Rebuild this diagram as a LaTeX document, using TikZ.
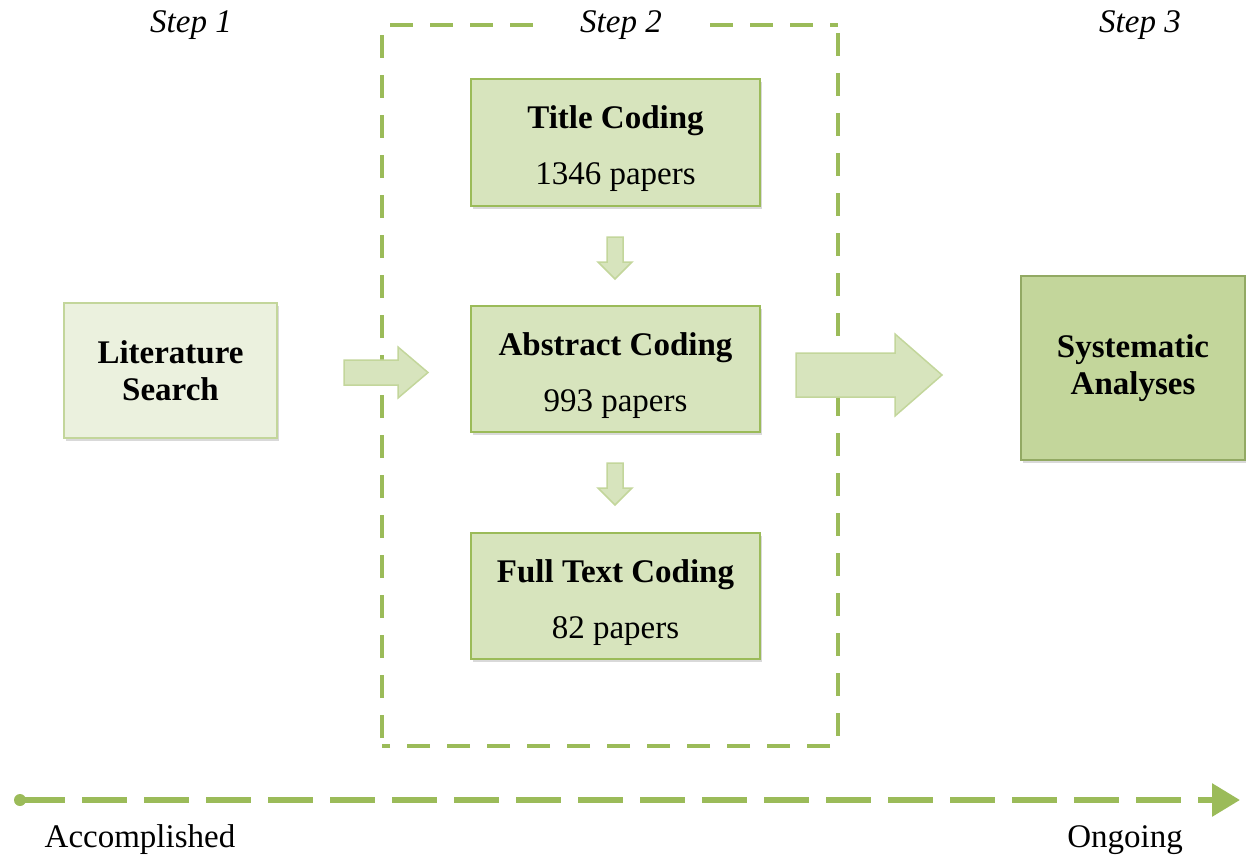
\documentclass[tikz,border=0pt]{standalone}
\usepackage{fontspec}
\setmainfont{Liberation Serif}
\usetikzlibrary{shadows,arrows.meta}
\definecolor{gFill}{HTML}{D7E4BD}
\definecolor{gLight}{HTML}{EBF1DE}
\definecolor{gDark}{HTML}{C3D69B}
\definecolor{gLine}{HTML}{9BBB59}
\definecolor{gLineL}{HTML}{C3D69B}
\definecolor{gLineD}{HTML}{77933C}
\tikzset{
  boxbase/.style={draw, line width=2pt, inner sep=0pt, align=center,
    font=\fontsize{33}{37}\selectfont,
    drop shadow={shadow xshift=2pt, shadow yshift=-3pt, opacity=0.25, fill=black!60}},
  codebox/.style={boxbase, fill=gFill, draw=gLine, minimum width=289pt, minimum height=126pt},
  litbox/.style={boxbase, fill=gLight, draw=gLineL, minimum width=213pt, minimum height=135pt},
  sysbox/.style={boxbase, fill=gDark, draw=gLineD!80, minimum width=224pt, minimum height=184pt},
  blockarrow/.style={fill=gFill, draw=gLineL, line width=1.5pt, line join=miter},
  steplabel/.style={font=\fontsize{33}{37}\selectfont\itshape},
  framedash/.style={draw=gLine, line width=4pt, dash pattern=on 23pt off 17pt, dash phase=32pt},
  endlabel/.style={font=\fontsize{33}{37}\selectfont},
}
\newcommand{\toppad}{\rule{0pt}{36pt}}
\begin{document}
\begin{tikzpicture}[x=1pt,y=-1pt]
\useasboundingbox (0,0) rectangle (1246,861);
% dashed frame of step 2
\coordinate (fa) at (382,25);
\coordinate (fb) at (838,25);
\coordinate (fc) at (838,746);
\coordinate (fd) at (382,746);
\draw[framedash] (fa) -- (fb);
\draw[framedash] (fb) -- (fc);
\draw[framedash] (fc) -- (fd);
\draw[framedash] (fd) -- (fa);
% step labels
\node[steplabel] (s1) at (191,25) {Step 1};
\node[steplabel, fill=white, inner xsep=44pt, inner ysep=2pt] (s2) at (621,25) {Step 2};
\node[steplabel] (s3) at (1140,25) {Step 3};
% boxes
\node[litbox] (lit) at (170.5,370.5) {\textbf{Literature}\\\textbf{Search}};
\node[codebox] (title) at (615.5,142.5) {\toppad\textbf{Title Coding}\\[19pt]1346 papers};
\node[codebox] (abs) at (615.5,369) {\toppad\textbf{Abstract Coding}\\[19pt]993 papers};
\node[codebox] (full) at (615.5,596) {\toppad\textbf{Full Text Coding}\\[19pt]82 papers};
\node[sysbox] (sys) at (1133,368) {\textbf{Systematic}\\\textbf{Analyses}};
% block arrows
\draw[blockarrow] (344,360) -- (398,360) -- (398,347) -- (428,372.5) -- (398,398) -- (398,385) -- (344,385) -- cycle;
\draw[blockarrow] (796,353) -- (895,353) -- (895,334) -- (942,375) -- (895,416) -- (895,397) -- (796,397) -- cycle;
\draw[blockarrow] (607,237) -- (623,237) -- (623,262) -- (632,262) -- (615,279) -- (598,262) -- (607,262) -- cycle;
\draw[blockarrow] (607,463) -- (623,463) -- (623,488) -- (632,488) -- (615,505) -- (598,488) -- (607,488) -- cycle;
% timeline
\coordinate (tstart) at (20,800);
\coordinate (tend) at (1240,800);
\fill[gLine] (tstart) circle (6pt);
\draw[draw=gLine, line width=6pt, dash pattern=on 45pt off 17pt, -{Triangle[length=28pt,width=32pt]}] (tstart) -- (tend);
\node[endlabel] (acc) at (140,840) {Accomplished};
\node[endlabel] (ong) at (1125,840) {Ongoing};
\end{tikzpicture}
\end{document}
